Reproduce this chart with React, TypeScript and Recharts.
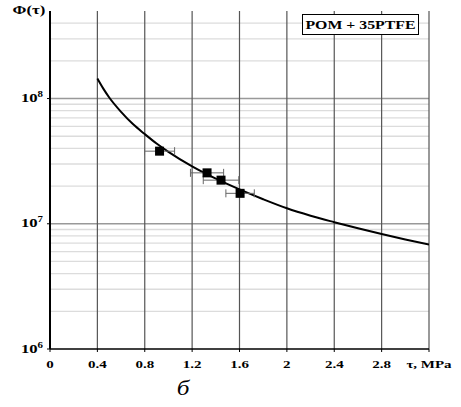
import React from "react";
import {
  ComposedChart,
  Line,
  Scatter,
  XAxis,
  YAxis,
  CartesianGrid,
  ErrorBar,
} from "recharts";

// Fitted curve Φ(τ)
const curveTau = [0.4, 0.45, 0.5, 0.6, 0.7, 0.8, 0.9, 1.0, 1.2, 1.4, 1.6, 1.8, 2.0, 2.2, 2.4, 2.6, 2.8, 3.0, 3.2];
const curvePhi = [1.445e8, 1.2e8, 1.02e8, 7.83e7, 6.25e7, 5.2e7, 4.37e7, 3.75e7, 2.87e7, 2.29e7, 1.88e7, 1.57e7, 1.33e7, 1.16e7, 1.03e7, 9.2e6, 8.28e6, 7.5e6, 6.84e6];

// Experimental points
const pointTau = [0.925, 1.326, 1.444, 1.605];
const pointPhi = [3.8e7, 2.55e7, 2.23e7, 1.75e7];
const pointErr = [0.127, 0.14, 0.15, 0.12];

// Axes
const xTicks = [0, 0.4, 0.8, 1.2, 1.6, 2, 2.4, 2.8, 3.2];
const xGrid = [0.4, 0.8, 1.2, 1.6, 2, 2.4, 2.8, 3.2];
const yTicks = [1e6, 1e7, 1e8];
const yMajorGrid = [1e7, 1e8];
const yMinorGrid = [
  2e6, 3e6, 4e6, 5e6, 6e6, 7e6, 8e6, 9e6,
  2e7, 3e7, 4e7, 5e7, 6e7, 7e7, 8e7, 9e7,
  2e8, 3e8, 4e8,
];

const yLabel = "Φ(τ)";
const xUnitLabel = "τ, MPa";
const legendText = "POM + 35PTFE";
const panelLabel = "б";

const curveData = curveTau.map((x, i) => ({ x, y: curvePhi[i] }));
const pointData = pointTau.map((x, i) => ({ x, y: pointPhi[i], err: pointErr[i] }));

const FONT = "'Liberation Serif', 'Times New Roman', serif";

const XTick = (props: any) => {
  const { x, y, payload } = props;
  const v = payload.value;
  const label = v > 3.1 ? xUnitLabel : String(v);
  return (
    <text
      transform={`translate(${x} ${y + 13.5}) scale(1.5 1)`}
      textAnchor="middle"
      fontFamily={FONT}
      fontWeight="bold"
      fontSize={10}
      fill="#000"
    >
      {label}
    </text>
  );
};

const YTick = (props: any) => {
  const { x, y, payload } = props;
  const exp = Math.round(Math.log10(payload.value));
  return (
    <text
      transform={`translate(${x - 2} ${y + 3.5}) scale(1.45 1)`}
      textAnchor="end"
      fontFamily={FONT}
      fontWeight="bold"
      fontSize={11.5}
      fill="#000"
    >
      10
      <tspan dy={-5} fontSize={7.5}>
        {exp}
      </tspan>
    </text>
  );
};

const Square = (props: any) => {
  const { cx, cy } = props;
  return <rect x={cx - 4.5} y={cy - 4.5} width={9} height={9} fill="#000" />;
};

export default function App() {
  return (
    <div style={{ position: "absolute", left: 0, top: 0, width: 461, height: 407, background: "#fff" }}>
      <ComposedChart
        width={461}
        height={407}
        margin={{ top: 11, right: 32, bottom: 28, left: 0 }}
      >
        <CartesianGrid
          vertical={false}
          horizontalValues={yMinorGrid}
          stroke="#dcdcdc"
          strokeWidth={1.3}
        />
        <CartesianGrid
          vertical={false}
          horizontalValues={yMajorGrid}
          stroke="#999"
          strokeWidth={1.5}
        />
        <CartesianGrid
          horizontal={false}
          verticalValues={xGrid}
          stroke="#555"
          strokeWidth={1.2}
        />
        <XAxis
          type="number"
          dataKey="x"
          domain={[0, 3.2]}
          ticks={xTicks}
          allowDataOverflow
          height={30}
          tickSize={3}
          tickMargin={2}
          tick={<XTick />}
          axisLine={{ stroke: "#000", strokeWidth: 1.5 }}
          tickLine={{ stroke: "#000" }}
          interval={0}
        />
        <YAxis
          type="number"
          dataKey="y"
          scale="log"
          domain={[1e6, 5e8]}
          ticks={yTicks}
          allowDataOverflow
          width={50}
          tickSize={3}
          tickMargin={2}
          tick={<YTick />}
          axisLine={{ stroke: "#000", strokeWidth: 2 }}
          tickLine={{ stroke: "#000" }}
          interval={0}
        />
        <Line
          data={curveData}
          dataKey="y"
          type="monotone"
          stroke="#000"
          strokeWidth={2}
          dot={false}
          isAnimationActive={false}
        />
        <Scatter data={pointData} dataKey="y" shape={<Square />} isAnimationActive={false}>
          <ErrorBar dataKey="err" direction="x" stroke="#666" strokeWidth={1} width={4} isAnimationActive={false} />
        </Scatter>
      </ComposedChart>
      <svg
        width={461}
        height={407}
        style={{ position: "absolute", left: 0, top: 0, pointerEvents: "none" }}
      >
        <text
          transform="translate(29 14) scale(1.4 1)"
          textAnchor="middle"
          fontFamily={FONT}
          fontWeight="bold"
          fontSize={12}
          fill="#000"
        >
          {yLabel}
        </text>
        <rect x={302.5} y={14.5} width={116} height={20} fill="#fff" stroke="#000" strokeWidth={1} />
        <text
          transform="translate(360.5 29) scale(1.32 1)"
          textAnchor="middle"
          fontFamily={FONT}
          fontWeight="bold"
          fontSize={12}
          fill="#000"
        >
          {legendText}
        </text>
        <text
          transform="translate(183 395) scale(1.15 1)"
          textAnchor="middle"
          fontFamily={FONT}
          fontStyle="italic"
          fontSize={22}
          fill="#000"
        >
          {panelLabel}
        </text>
      </svg>
    </div>
  );
}
